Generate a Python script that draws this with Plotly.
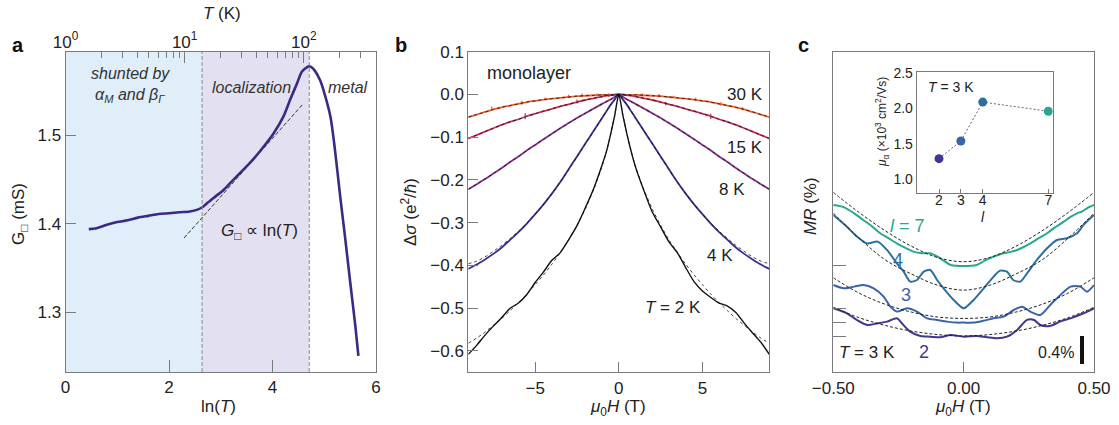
import math
import plotly.graph_objects as go

FIG_W, FIG_H = 1119, 425
FONT = "Arial, 'Liberation Sans', sans-serif"
INK = "#222222"
FRAME = "#7a7a7a"

# ---------------- panel a: sheet conductance vs ln(T) ----------------
ln_T = [0.45, 0.6, 0.8, 1.0, 1.2, 1.4, 1.6, 1.8, 2.0, 2.2, 2.4, 2.55, 2.65, 2.75,
        2.9, 3.05, 3.2, 3.4, 3.6, 3.8, 4.02, 4.21, 4.34, 4.47, 4.57, 4.67, 4.72,
        4.79, 4.92, 5.02, 5.12, 5.2, 5.31, 5.4, 5.5, 5.6, 5.66]
G_sq = [1.394, 1.395, 1.399, 1.402, 1.404, 1.407, 1.409, 1.411, 1.412, 1.413,
        1.414, 1.416, 1.419, 1.424, 1.431, 1.438, 1.447, 1.459, 1.471, 1.485,
        1.502, 1.521, 1.540, 1.558, 1.572, 1.577, 1.578, 1.575, 1.562, 1.544,
        1.521, 1.487, 1.430, 1.386, 1.335, 1.285, 1.251]
lnT_fit = [2.29, 4.60]
G_fit = [1.384, 1.536]
shunted_edge = 2.64      # ln(T) boundary between shunted and localization regimes
metal_edge = 4.71        # ln(T) boundary between localization and metal regimes
T_major = [1, 10, 100]
T_major_text = ["10<sup>0</sup>", "10<sup>1</sup>", "10<sup>2</sup>"]
T_minor = [2, 3, 4, 5, 6, 7, 8, 9, 20, 30, 40, 50, 60, 70, 80, 90, 200, 300, 400]

# ---------------- panel b: magnetoconductance of the monolayer ----------------
H_side = [0, 0.25, 0.5, 0.75, 1, 1.5, 2, 2.5, 3, 3.5, 4, 4.5, 5, 5.5, 6, 6.5,
          7, 7.5, 8, 8.5, 9]
ds_30K = [0, 0, -0.001, -0.001, -0.001, -0.002, -0.003, -0.004, -0.006, -0.008,
          -0.010, -0.012, -0.015, -0.018, -0.022, -0.026, -0.030, -0.035,
          -0.041, -0.047, -0.053]
ds_15K = [0, -0.001, -0.002, -0.003, -0.005, -0.009, -0.013, -0.018, -0.023,
          -0.028, -0.034, -0.039, -0.045, -0.051, -0.058, -0.064, -0.071,
          -0.079, -0.087, -0.095, -0.103]
ds_8K = [0, -0.006, -0.012, -0.017, -0.022, -0.033, -0.044, -0.055, -0.067,
         -0.079, -0.092, -0.105, -0.118, -0.131, -0.145, -0.158, -0.172, -0.185,
         -0.198, -0.210, -0.222]
ds_4K = [0, -0.012, -0.025, -0.040, -0.055, -0.085, -0.115, -0.145, -0.175,
         -0.205, -0.232, -0.257, -0.280, -0.302, -0.322, -0.340, -0.358, -0.373,
         -0.386, -0.398, -0.408]
fit_4K = [0, -0.012, -0.025, -0.040, -0.055, -0.085, -0.115, -0.146, -0.176,
          -0.205, -0.232, -0.257, -0.280, -0.301, -0.320, -0.337, -0.353,
          -0.367, -0.380, -0.390, -0.396]
# 2 K trace carries small oscillations, so both field directions are listed
H_neg_2K = [-9, -8.5, -8, -7.5, -7, -6.5, -6, -5.5, -5, -4.5, -4, -3.5, -3,
            -2.5, -2, -1.5, -1, -0.75, -0.5, -0.25, 0]
ds_neg_2K = [-0.608, -0.587, -0.563, -0.542, -0.522, -0.500, -0.488, -0.468,
             -0.440, -0.415, -0.388, -0.370, -0.340, -0.307, -0.265, -0.220,
             -0.165, -0.135, -0.095, -0.050, 0]
H_pos_2K = [0.25, 0.5, 0.75, 1, 1.5, 2, 2.5, 3, 3.5, 4, 4.5, 5, 5.5, 6, 6.5,
            7, 7.5, 8, 8.5, 9]
ds_pos_2K = [-0.050, -0.095, -0.135, -0.170, -0.225, -0.275, -0.310, -0.345,
             -0.370, -0.405, -0.438, -0.460, -0.475, -0.488, -0.495, -0.510,
             -0.535, -0.558, -0.580, -0.608]
fit_2K = [0, -0.050, -0.095, -0.135, -0.168, -0.222, -0.268, -0.306, -0.340,
          -0.370, -0.397, -0.422, -0.445, -0.467, -0.487, -0.506, -0.524,
          -0.540, -0.556, -0.570, -0.582]
# noise spikes on the high-temperature traces: (field, low, high)
spikes_30K = [(-7.6, -0.034, -0.028), (-5.8, -0.024, -0.015), (-4.4, -0.013, -0.007),
              (-3.0, -0.009, -0.001), (-2.2, -0.006, 0.002), (-1.3, -0.004, 0.003),
              (1.4, -0.005, 0.003), (2.4, -0.007, 0.001), (3.3, -0.009, -0.003),
              (4.6, -0.016, -0.008), (6.1, -0.026, -0.018), (7.4, -0.037, -0.030)]
spikes_15K = [(-5.6, -0.058, -0.044), (-2.5, -0.021, -0.012), (-0.6, -0.006, 0.002),
              (2.8, -0.025, -0.017), (5.5, -0.058, -0.045)]

# ---------------- panel c: MR of layers l = 2, 3, 4, 7 at 3 K ----------------
H_l7 = [-0.5, -0.46, -0.42, -0.385, -0.35, -0.32, -0.29, -0.257, -0.225, -0.193,
        -0.16, -0.128, -0.09, -0.05, -0.02, 0, 0.02, 0.05, 0.09, 0.12, 0.153,
        0.18, 0.205, 0.23, 0.256, 0.29, 0.32, 0.35, 0.384, 0.41, 0.435, 0.455,
        0.473, 0.5]
MR_l7 = [0.87, 0.84, 0.75, 0.656, 0.56, 0.466, 0.40, 0.323, 0.26, 0.204, 0.18,
         0.18, 0.109, 0.013, 0.0, 0.0, 0.0, 0.013, 0.094, 0.14, 0.18, 0.20,
         0.228, 0.27, 0.323, 0.40, 0.466, 0.55, 0.632, 0.70, 0.751, 0.78,
         0.823, 0.87]
H_l4 = [-0.5, -0.448, -0.41, -0.37, -0.33, -0.294, -0.256, -0.23, -0.205,
        -0.179, -0.153, -0.128, -0.102, -0.077, -0.038, 0, 0.038, 0.077, 0.115,
        0.14, 0.166, 0.19, 0.217, 0.243, 0.281, 0.32, 0.358, 0.396, 0.435,
        0.46, 0.5]
MR_l4 = [1.333, 1.166, 1.026, 0.926, 0.953, 0.834, 0.643, 0.524, 0.381, 0.405,
         0.524, 0.548, 0.405, 0.286, 0.119, 0.0, 0.119, 0.286, 0.453, 0.538,
         0.524, 0.405, 0.381, 0.5, 0.691, 0.857, 0.976, 1.0, 1.072, 1.191,
         1.333]
H_l3 = [-0.5, -0.46, -0.42, -0.384, -0.345, -0.307, -0.281, -0.256, -0.217,
        -0.179, -0.14, -0.102, -0.064, -0.026, 0, 0.038, 0.077, 0.115, 0.153,
        0.192, 0.224, 0.256, 0.294, 0.332, 0.371, 0.41, 0.448, 0.473, 0.5]
MR_l3 = [0.537, 0.49, 0.514, 0.537, 0.49, 0.371, 0.228, 0.157, 0.204, 0.157,
         0.061, 0.038, 0.014, 0.0, 0.0, 0.0, 0.028, 0.061, 0.085, 0.18, 0.228,
         0.157, 0.109, 0.252, 0.395, 0.514, 0.514, 0.442, 0.537]
H_l2 = [-0.5, -0.448, -0.41, -0.37, -0.33, -0.294, -0.256, -0.237, -0.205,
        -0.166, -0.128, -0.09, -0.05, 0, 0.05, 0.09, 0.128, 0.166, 0.205, 0.243,
        0.27, 0.294, 0.33, 0.37, 0.41, 0.46, 0.5]
MR_l2 = [0.405, 0.334, 0.239, 0.167, 0.191, 0.215, 0.262, 0.191, 0.072, 0.01,
         0.0, -0.009, 0.024, 0.0, 0.01, -0.009, -0.023, 0.0, 0.096, 0.239,
         0.239, 0.167, 0.153, 0.215, 0.262, 0.334, 0.405]
H_fit_c = [-0.5, -0.4, -0.3, -0.2, -0.1, 0, 0.1, 0.2, 0.3, 0.4, 0.5]
fit_l7 = [1.05, 0.76, 0.50, 0.28, 0.12, 0.06, 0.12, 0.28, 0.50, 0.76, 1.05]
fit_l4 = [1.36, 1.00, 0.69, 0.49, 0.33, 0.26, 0.33, 0.49, 0.69, 1.00, 1.36]
fit_l3 = [0.64, 0.42, 0.26, 0.15, 0.08, 0.06, 0.08, 0.15, 0.26, 0.42, 0.64]
fit_l2 = [0.42, 0.27, 0.16, 0.08, 0.03, 0.01, 0.03, 0.08, 0.16, 0.27, 0.42]
offset = {2: 0.509, 3: 0.71, 4: 0.914, 7: 1.52}   # vertical shift of each layer (%)
scale_bar = 0.4                                    # MR scale bar (%)

# inset: mobility vs layer number
layers = [2, 3, 4, 7]
mobility = [1.29, 1.54, 2.09, 1.96]

C_30, C_15, C_8, C_4, C_2 = "#ef5e2b", "#c9335a", "#86308c", "#3b2f8e", "#111111"
C_L = {2: "#3e3891", 3: "#3b63a8", 4: "#2c6f9e", 7: "#27a88c"}
C_A = "#3b2a84"


def fx(p):
    return p / FIG_W


def fy(p):
    return 1 - p / FIG_H


fig = go.Figure()

# ---- panel a traces
fig.add_trace(go.Scatter(x=lnT_fit, y=G_fit, mode="lines", xaxis="x", yaxis="y",
                         line=dict(color="#333333", width=1, dash="4px,2px")))
fig.add_trace(go.Scatter(x=ln_T, y=G_sq, mode="lines", xaxis="x", yaxis="y",
                         line=dict(color=C_A, width=2.6, shape="spline", smoothing=0.8)))
fig.add_trace(go.Scatter(x=[10], y=[1.4], mode="markers", xaxis="x4", yaxis="y",
                         marker=dict(opacity=0), hoverinfo="skip"))

# ---- panel b traces
H_full = [-h for h in H_side[:0:-1]] + H_side


def sym(v):
    return v[:0:-1] + v


def spike_xy(spikes):
    xs, ys = [], []
    for h, lo, hi in spikes:
        xs += [h, h, None]
        ys += [lo, hi, None]
    return xs, ys


for vals, col in [(ds_30K, C_30), (ds_15K, C_15), (ds_8K, C_8), (ds_4K, C_4)]:
    fig.add_trace(go.Scatter(x=H_full, y=sym(vals), mode="lines", xaxis="x2", yaxis="y2",
                             line=dict(color=col, width=1.8, shape="spline", smoothing=0.6)))
for spikes, col in [(spikes_30K, C_30), (spikes_15K, C_15)]:
    sx, sy = spike_xy(spikes)
    fig.add_trace(go.Scatter(x=sx, y=sy, mode="lines", xaxis="x2", yaxis="y2",
                             line=dict(color=col, width=1.2), connectgaps=False))
fig.add_trace(go.Scatter(x=H_neg_2K + H_pos_2K, y=ds_neg_2K + ds_pos_2K, mode="lines",
                         xaxis="x2", yaxis="y2",
                         line=dict(color=C_2, width=1.4, shape="spline", smoothing=0.6)))
for vals in [ds_30K, ds_15K, ds_8K, fit_4K, fit_2K]:
    fig.add_trace(go.Scatter(x=H_full, y=sym(vals), mode="lines", xaxis="x2", yaxis="y2",
                             line=dict(color="#111111", width=0.8, dash="3px,3px",
                                       shape="spline", smoothing=0.6)))

# ---- panel c traces
for l, Hs, MR in [(2, H_l2, MR_l2), (3, H_l3, MR_l3), (4, H_l4, MR_l4), (7, H_l7, MR_l7)]:
    fig.add_trace(go.Scatter(x=Hs, y=[m + offset[l] for m in MR], mode="lines",
                             xaxis="x3", yaxis="y3",
                             line=dict(color=C_L[l], width=2, shape="spline", smoothing=0.7)))
for l, fit in [(2, fit_l2), (3, fit_l3), (4, fit_l4), (7, fit_l7)]:
    fig.add_trace(go.Scatter(x=H_fit_c, y=[f + offset[l] for f in fit], mode="lines",
                             xaxis="x3", yaxis="y3",
                             line=dict(color="#222222", width=1, dash="3px,2px",
                                       shape="spline", smoothing=1.0)))

# ---- inset traces
fig.add_trace(go.Scatter(x=layers, y=mobility, mode="lines+markers", xaxis="x5", yaxis="y5",
                         line=dict(color="#666666", width=1, dash="2px,2px"),
                         marker=dict(size=9, color=[C_L[l] for l in layers])))

# ---- axes
tick_font = dict(family=FONT, size=17, color=INK)
box = dict(showline=True, linecolor=FRAME, linewidth=1, mirror=True, zeroline=False,
           showgrid=False, ticks="inside", tickcolor=FRAME, tickfont=tick_font,
           automargin=False)

dom_a_x = [fx(65.5), fx(376)]
dom_a_y = [fy(372), fy(52)]
dom_b_x = [fx(468.3), fx(769.3)]
dom_c_x = [fx(833.3), fx(1094)]
dom_bc_y = [fy(372.3), fy(51.7)]

fig.update_layout(
    xaxis=dict(box, domain=dom_a_x, anchor="y", range=[0, 6], tickvals=[0, 2, 4, 6],
               ticklen=12),
    yaxis=dict(box, domain=dom_a_y, anchor="x", range=[1.2327, 1.594],
               tickvals=[1.3, 1.4, 1.5], ticklen=10),
    xaxis4=dict(overlaying="x", anchor="y", side="top", type="log", automargin=False,
                range=[0, 6 / math.log(10)], showline=False, showgrid=False,
                zeroline=False, ticks="inside", ticklen=11, tickcolor=FRAME,
                tickvals=T_major, ticktext=T_major_text, tickfont=tick_font,
                minor=dict(ticks="inside", ticklen=6, tickcolor=FRAME, tickvals=T_minor)),
    xaxis2=dict(box, domain=dom_b_x, anchor="y2", range=[-9, 9], tickvals=[-5, 0, 5],
                ticklen=10),
    yaxis2=dict(box, domain=dom_bc_y, anchor="x2", range=[-0.65, 0.1],
                tickvals=[-0.6, -0.5, -0.4, -0.3, -0.2, -0.1, 0.0, 0.1],
                tickformat=".1f", ticklen=10),
    xaxis3=dict(box, domain=dom_c_x, anchor="y3", range=[-0.5, 0.5],
                tickvals=[-0.5, 0, 0.5], tickformat=".2f", ticklen=10),
    yaxis3=dict(box, domain=dom_bc_y, anchor="x3", range=[0, 4.58],
                tickvals=[offset[2], offset[3], offset[4], offset[7]],
                showticklabels=False, ticklen=13),
    xaxis5=dict(showline=True, linecolor=FRAME, linewidth=1, mirror=True, zeroline=False,
                showgrid=False, domain=[fx(916.7), fx(1052.7)], anchor="y5",
                range=[0.98, 7.2], tickvals=layers, ticks="inside", ticklen=4,
                ticklabelstandoff=-6,
                tickcolor=FRAME, tickfont=dict(family=FONT, size=14, color=INK),
                automargin=False),
    yaxis5=dict(showline=True, linecolor=FRAME, linewidth=1, mirror=True, zeroline=False,
                showgrid=False, domain=[fy(193.3), fy(71.7)], anchor="x5",
                range=[0.8, 2.52], tickvals=[1.0, 1.5, 2.0, 2.5], tickformat=".1f",
                ticks="", tickfont=dict(family=FONT, size=14, color=INK),
                automargin=False),
)

# ---- regime shading in panel a
shapes = [
    dict(type="rect", xref="x", yref="y domain", x0=0, x1=shunted_edge, y0=0, y1=1,
         fillcolor="#e0eef9", line=dict(width=0), layer="below"),
    dict(type="rect", xref="x", yref="y domain", x0=shunted_edge, x1=metal_edge, y0=0, y1=1,
         fillcolor="#e3e1f1", line=dict(width=0), layer="below"),
    dict(type="line", xref="x", yref="y domain", x0=shunted_edge, x1=shunted_edge, y0=0, y1=1,
         line=dict(color="#8a8a8a", width=1, dash="4px,2px")),
    dict(type="line", xref="x", yref="y domain", x0=metal_edge, x1=metal_edge, y0=0, y1=1,
         line=dict(color="#8a8a8a", width=1, dash="4px,2px")),
    # MR scale bar in panel c
    dict(type="line", xref="x3", yref="y3", x0=0.454, x1=0.454, y0=0.12, y1=0.12 + scale_bar,
         line=dict(color="#111111", width=4)),
]


def note(text, x, y, size=17, color=INK, angle=0, xanchor="center", italic=False):
    if italic:
        text = "<i>" + text + "</i>"
    return dict(text=text, x=fx(x), y=fy(y), xref="paper", yref="paper", showarrow=False,
                xanchor=xanchor, yanchor="middle", textangle=angle,
                font=dict(family=FONT, size=size, color=color))


annotations = [
    note("<b>a</b>", 18, 45, size=20, color="#111111"),
    note("<b>b</b>", 401, 45, size=20, color="#111111"),
    note("<b>c</b>", 803, 45, size=20, color="#111111"),
    # panel a
    note("<i>T</i> (K)", 222, 13, size=17),
    note("ln(<i>T</i>)", 218, 406, size=17),
    note("G<sub>□</sub> (mS)", 20, 214, size=17, angle=-90),
    note("shunted by", 130, 73, size=16, color="#333333", italic=True),
    note("α<sub>M</sub> and β<sub>Γ</sub>", 130, 96, size=16, color="#333333", italic=True),
    note("localization", 251, 87, size=16, color="#333333", italic=True),
    note("metal", 348, 87, size=16, color="#333333", italic=True),
    note("<i>G</i><sub>□</sub> ∝ ln(<i>T</i>)", 259, 232, size=17),
    # panel b
    note("monolayer", 529, 73, size=18),
    note("30 K", 745, 94, size=17),
    note("15 K", 745, 147, size=17),
    note("8 K", 732, 190, size=17),
    note("4 K", 720, 255, size=17),
    note("<i>T</i> = 2 K", 673, 307, size=17),
    note("<i>μ</i><sub>0</sub><i>H</i> (T)", 618, 408, size=17),
    note("Δ<i>σ</i> (e<sup>2</sup>/<i>ħ</i>)", 409, 212, size=17, angle=-90),
    # panel c
    note("<i>MR</i> (%)", 811, 206, size=17, angle=-90),
    note("<i>μ</i><sub>0</sub><i>H</i> (T)", 963, 408, size=17),
    note("<i>l</i> = 7", 907, 226, size=18, color=C_L[7]),
    note("4", 898, 260, size=18, color=C_L[4]),
    note("3", 906, 295, size=18, color=C_L[3]),
    note("2", 924, 352, size=18, color=C_L[2]),
    note("<i>T</i> = 3 K", 867, 352, size=17),
    note("0.4%", 1056, 352, size=16),
    # inset
    note("<i>T</i> = 3 K", 926, 87, size=14, xanchor="left"),
    note("<i>μ</i><sub>α</sub> (×10<sup>3</sup> cm<sup>2</sup>/Vs)", 882, 122, size=12, angle=-90),
    note("<i>l</i>", 983, 217, size=14),
]

fig.update_layout(
    width=FIG_W, height=FIG_H, margin=dict(l=0, r=0, t=0, b=0),
    paper_bgcolor="white", plot_bgcolor="white", showlegend=False,
    font=dict(family=FONT, color=INK),
    shapes=shapes, annotations=annotations,
)

fig.write_html("out.html")
